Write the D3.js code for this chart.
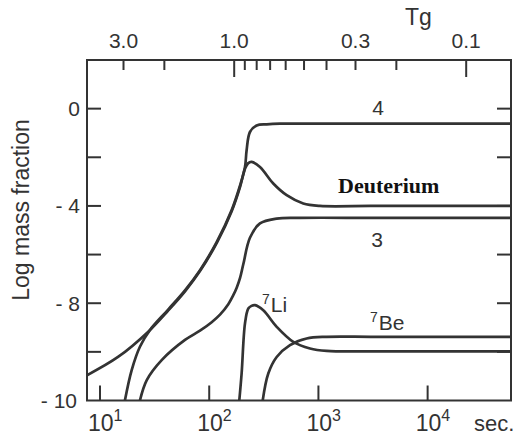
<!DOCTYPE html>
<html><head><meta charset="utf-8">
<script src="https://cdn.jsdelivr.net/npm/d3@7"></script>
<style>
html,body{margin:0;padding:0;background:#fff;}
svg{display:block;}
</style></head>
<body>
<script>
// ---- data ----
const tDeut = [7.6, 14.62, 27.5, 41.9, 60, 82.3, 117, 160.6, 191.3, 212.6, 226.5, 244.8, 291.6, 386, 512, 726, 1033, 3000, 10000, 58000];
const vDeut = [-10.96, -10.21, -9.18, -8.31, -7.51, -6.68, -5.53, -4.22, -3.23, -2.47, -2.25, -2.19, -2.40, -3.08, -3.56, -3.90, -4.00, -4.00, -4.00, -4.00];

const tHe4 = [16.9, 19.5, 23.2, 28.7, 41.9, 60, 82.3, 117, 160.6, 191.3, 212.6, 220, 236, 272, 336, 445, 1500, 10000, 58000];
const vHe4 = [-12, -10.75, -9.79, -9.10, -8.27, -7.47, -6.64, -5.49, -4.17, -3.17, -2.40, -1.71, -0.96, -0.69, -0.645, -0.62, -0.62, -0.62, -0.62];

const tHe3 = [23.2, 26.8, 36.7, 60, 82.3, 105.3, 125.5, 149.5, 166.1, 178.5, 191.3, 205.1, 236, 291.6, 415, 678, 3000, 10000, 58000];
const vHe3 = [-12, -11.16, -10.34, -9.51, -9.13, -8.78, -8.47, -8.04, -7.67, -7.36, -6.97, -6.40, -5.31, -4.72, -4.52, -4.49, -4.49, -4.49, -4.49];

const tLi7 = [188.5, 198, 212.6, 227.9, 243.8, 262.4, 312.6, 415, 589, 837, 1190, 3000, 10000, 58000];
const vLi7 = [-12, -10.89, -8.83, -8.22, -8.11, -8.08, -8.29, -8.97, -9.59, -9.86, -9.96, -9.98, -9.98, -9.98];

const tBe7 = [308.8, 347.4, 414.7, 549, 780, 1190, 3000, 10000, 58000];
const vBe7 = [-12, -10.89, -10.21, -9.72, -9.45, -9.38, -9.38, -9.38, -9.38];

const xTickValues = [1e1, 1e2, 1e3, 1e4];
const xTickExp = ["1", "2", "3", "4"];
const yTickValues = [0, -2, -4, -6, -8, -10];
const yLabelValues = [0, -4, -8, -12];
const yLabelTexts = ["0", "- 4", "- 8", "- 10"];
const tgTicks = [3.0, 2.0, 1.0, 0.9, 0.8, 0.7, 0.6, 0.5, 0.4, 0.3, 0.2, 0.1];
const tgMajor = [1.0, 0.1];
const tgLabelValues = [3.0, 1.0, 0.3, 0.1];
const tgLabelTexts = ["3.0", "1.0", "0.3", "0.1"];

// ---- layout ----
const W = 517, H = 437;
const L = 87, R = 511, T = 60, B = 400.5;
const ink = "#333";

const svg = d3.select("body").append("svg").attr("width", W).attr("height", H);

const x = d3.scaleLog().domain([7.6, 58000]).range([L, R]);
const y = d3.scaleLinear().domain([-12, 2]).range([B, T]);
const tg = d3.scaleLog().domain([4.31, 0.0641]).range([L, R]);

svg.append("defs").append("clipPath").attr("id", "clip")
  .append("rect").attr("x", L).attr("y", T).attr("width", R - L).attr("height", B - T);

// frame
svg.append("rect").attr("x", L).attr("y", T).attr("width", R - L).attr("height", B - T)
  .attr("fill", "none").attr("stroke", ink).attr("stroke-width", 2);

// ticks
const tk = svg.append("g").attr("stroke", ink).attr("stroke-width", 2);
yTickValues.forEach(v => {
  tk.append("line").attr("x1", L).attr("x2", L + 14).attr("y1", y(v)).attr("y2", y(v));
  tk.append("line").attr("x1", R - 14).attr("x2", R).attr("y1", y(v)).attr("y2", y(v));
});
xTickValues.forEach(v => {
  tk.append("line").attr("x1", x(v)).attr("x2", x(v)).attr("y1", B).attr("y2", B - 15);
});
tgTicks.forEach(v => {
  const len = tgMajor.includes(v) ? 17 : 10;
  tk.append("line").attr("x1", tg(v)).attr("x2", tg(v)).attr("y1", T).attr("y2", T + len);
});

// curves
const line = d3.line().x(d => x(d[0])).y(d => y(d[1])).curve(d3.curveCatmullRom.alpha(0.5));
const series = [[tDeut, vDeut], [tHe4, vHe4], [tHe3, vHe3], [tLi7, vLi7], [tBe7, vBe7]];
const cg = svg.append("g").attr("clip-path", "url(#clip)");
series.forEach(([ts, vs]) => {
  cg.append("path").datum(ts.map((t, i) => [t, vs[i]]))
    .attr("d", line).attr("fill", "none").attr("stroke", ink)
    .attr("stroke-width", 2.7).attr("stroke-linejoin", "round");
});

// text
const sans = "'Liberation Sans', Arial, sans-serif";

// y tick labels
yLabelValues.forEach((v, i) => {
  svg.append("text").attr("x", i === 3 ? 77 : 80).attr("y", y(v) + 7.5)
    .attr("text-anchor", "end").attr("font-family", sans).attr("font-size", 21)
    .attr("fill", ink).text(yLabelTexts[i]);
});

// x tick labels
xTickValues.forEach((v, i) => {
  const t = svg.append("text").attr("x", x(v) - 12).attr("y", 431)
    .attr("font-family", sans).attr("font-size", 23).attr("fill", ink);
  t.append("tspan").text("10");
  t.append("tspan").attr("font-size", 16).attr("dy", -10).text(xTickExp[i]);
});
svg.append("text").attr("x", 474).attr("y", 431).attr("font-family", sans)
  .attr("font-size", 22).attr("fill", ink).text("sec.");

// top labels
tgLabelValues.forEach((v, i) => {
  svg.append("text").attr("x", tg(v)).attr("y", 48).attr("text-anchor", "middle")
    .attr("font-family", sans).attr("font-size", 21).attr("fill", ink).text(tgLabelTexts[i]);
});
svg.append("text").attr("x", 405).attr("y", 25).attr("font-family", sans)
  .attr("font-size", 23).attr("fill", ink).text("Tg");

// y axis title
svg.append("text").attr("transform", "translate(29,210) rotate(-90)")
  .attr("text-anchor", "middle").attr("font-family", sans).attr("font-size", 23)
  .attr("fill", ink).text("Log mass fraction");

// curve labels
svg.append("text").attr("x", 378).attr("y", 115).attr("text-anchor", "middle")
  .attr("font-family", sans).attr("font-size", 21).attr("fill", ink).text("4");
svg.append("text").attr("x", 377).attr("y", 247).attr("text-anchor", "middle")
  .attr("font-family", sans).attr("font-size", 21).attr("fill", ink).text("3");
svg.append("text").attr("x", 338).attr("y", 193)
  .attr("font-family", "'Liberation Serif', 'Times New Roman', serif").attr("font-weight", "bold")
  .attr("font-size", 22).attr("fill", "#111").text("Deuterium");

function isoLabel(px, py, mass, sym) {
  const t = svg.append("text").attr("x", px).attr("y", py)
    .attr("font-family", sans).attr("font-size", 21).attr("fill", ink);
  t.append("tspan").attr("font-size", 14).attr("dy", -8).text(mass);
  t.append("tspan").attr("dy", 8).attr("dx", 1).text(sym);
}
isoLabel(370, 330, "7", "Be");
isoLabel(262, 312, "7", "Li");
</script>
</body></html>
